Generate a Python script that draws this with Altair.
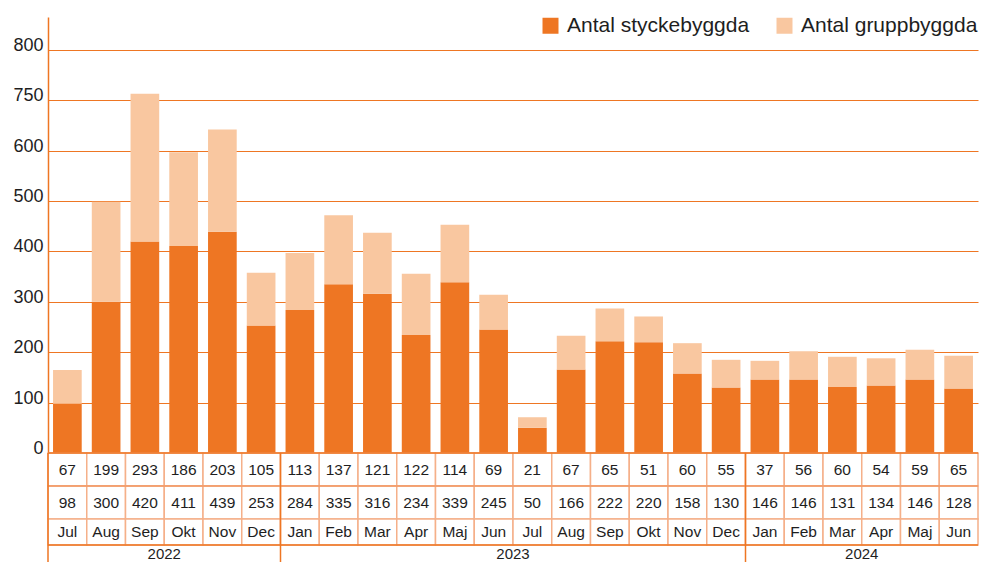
import altair as alt
import pandas as pd

months = ["Jul", "Aug", "Sep", "Okt", "Nov", "Dec",
          "Jan", "Feb", "Mar", "Apr", "Maj", "Jun", "Jul", "Aug", "Sep", "Okt", "Nov", "Dec",
          "Jan", "Feb", "Mar", "Apr", "Maj", "Jun"]
years = [2022] * 6 + [2023] * 12 + [2024] * 6
grupp = [67, 199, 293, 186, 203, 105, 113, 137, 121, 122, 114, 69, 21, 67, 65, 51, 60, 55,
         37, 56, 60, 54, 59, 65]
stycke = [98, 300, 420, 411, 439, 253, 284, 335, 316, 234, 339, 245, 50, 166, 222, 220, 158, 130,
          146, 146, 131, 134, 146, 128]
y_ticks = [0, 100, 200, 300, 400, 500, 600, 700, 800]
year_labels = ["2022", "2023", "2024"]
year_center_keys = ["2022-Okt", "2023-Jul", "2024-Apr"]
year_start_keys = ["2022-Jul", "2023-Jan", "2024-Jan"]

S_NAME = "Antal styckebyggda"
G_NAME = "Antal gruppbyggda"
ORANGE = "#EE7623"
LIGHT = "#F9C7A0"
PEACH = "#F5B089"
TXT = "#1e1e1e"
FONT = "Liberation Sans"

keys = [f"{y}-{m}" for y, m in zip(years, months)]

rows = []
for k, s, g in zip(keys, stycke, grupp):
    rows.append({"key": k, "series": S_NAME, "value": s, "ord": 0})
    rows.append({"key": k, "series": G_NAME, "value": g, "ord": 1})
long = pd.DataFrame(rows)

W = 930
x_bar = alt.X("key:N", sort=keys, scale=alt.Scale(paddingInner=0, paddingOuter=0), axis=None)

bars = alt.Chart(long).mark_bar(width=alt.RelativeBandSize(0.74)).encode(
    x=x_bar,
    y=alt.Y("value:Q", stack="zero",
            scale=alt.Scale(domain=[0, 865.5], nice=False, zero=True),
            axis=alt.Axis(values=y_ticks, grid=True, gridColor=ORANGE, gridWidth=1,
                          domainColor=ORANGE, domainWidth=1.5, ticks=False,
                          labelFont=FONT, labelFontSize=18, labelColor=TXT,
                          labelPadding=5, labelOffset=-4.5,
                          labelExpr="datum.value == 700 ? '750' : datum.label",
                          title=None)),
    color=alt.Color("series:N",
                    scale=alt.Scale(domain=[S_NAME, G_NAME], range=[ORANGE, LIGHT]),
                    legend=alt.Legend(title=None, orient="none", legendX=492, legendY=-2,
                                      direction="horizontal", symbolType="square",
                                      symbolSize=256, symbolStrokeWidth=0,
                                      labelFont=FONT, labelFontSize=21, labelColor=TXT,
                                      labelOffset=6, columnPadding=24, labelLimit=0)),
    order=alt.Order("ord:Q"),
).properties(width=W, height=436)

# table rows (layout bands in table pixels)
R1, R2, R3, TH = 33, 66, 92, 109
cells = []
for k, g, s, m in zip(keys, grupp, stycke, months):
    cells.append({"key": k, "y0": 0, "y1": R1, "label": str(g)})
    cells.append({"key": k, "y0": R1, "y1": R2, "label": str(s)})
    cells.append({"key": k, "y0": R2, "y1": R3, "label": m})
cells = pd.DataFrame(cells)
cells["ym"] = (cells["y0"] + cells["y1"]) / 2

yscale = alt.Scale(domain=[0, TH], reverse=True, nice=False, zero=False)
xsc = alt.Scale(paddingInner=0, paddingOuter=0)
x_tab = alt.X("key:N", sort=keys, scale=xsc, axis=None)

rects = alt.Chart(cells).mark_rect(fill="white", stroke=PEACH, strokeWidth=1.5).encode(
    x=x_tab,
    y=alt.Y("y0:Q", scale=yscale, axis=None),
    y2="y1",
)
texts = alt.Chart(cells).mark_text(font=FONT, fontSize=15.5, color=TXT, baseline="middle").encode(
    x=x_tab,
    y=alt.Y("ym:Q", scale=yscale, axis=None),
    text="label:N",
)
ydf = pd.DataFrame({"key": year_center_keys, "label": year_labels, "ym": [(R3 + TH) / 2 + 0.5] * 3})
year_text = alt.Chart(ydf).mark_text(font=FONT, fontSize=15, color=TXT, baseline="middle").encode(
    x=alt.X("key:N", sort=keys, bandPosition=0, scale=xsc, axis=None),
    y=alt.Y("ym:Q", scale=yscale, axis=None),
    text="label:N",
)
vdf = pd.DataFrame({"key": year_start_keys, "a": [0] * 3, "b": [TH] * 3})
vrules = alt.Chart(vdf).mark_rule(color=ORANGE, strokeWidth=1.5).encode(
    x=alt.X("key:N", sort=keys, bandPosition=0, scale=xsc, axis=None),
    y=alt.Y("a:Q", scale=yscale, axis=None),
    y2="b",
)
hdf = pd.DataFrame({"h": [0, R1, R3], "c": ["o", "p", "o"]})
hrules = alt.Chart(hdf).mark_rule(strokeWidth=1.5).encode(
    y=alt.Y("h:Q", scale=yscale, axis=None),
    color=alt.Color("c:N", scale=alt.Scale(domain=["o", "p"], range=[ORANGE, "#F29A66"]), legend=None),
)

table = alt.layer(rects, texts, year_text, hrules, vrules).properties(width=W, height=TH)

chart = alt.vconcat(bars, table, spacing=0, bounds="flush").resolve_scale(color="independent").properties(
    padding={"left": 4, "top": 7, "right": 0, "bottom": 0}, background="white"
).configure_view(strokeWidth=0)

chart.save("out.html", embed_options={"renderer": "svg", "actions": False})
